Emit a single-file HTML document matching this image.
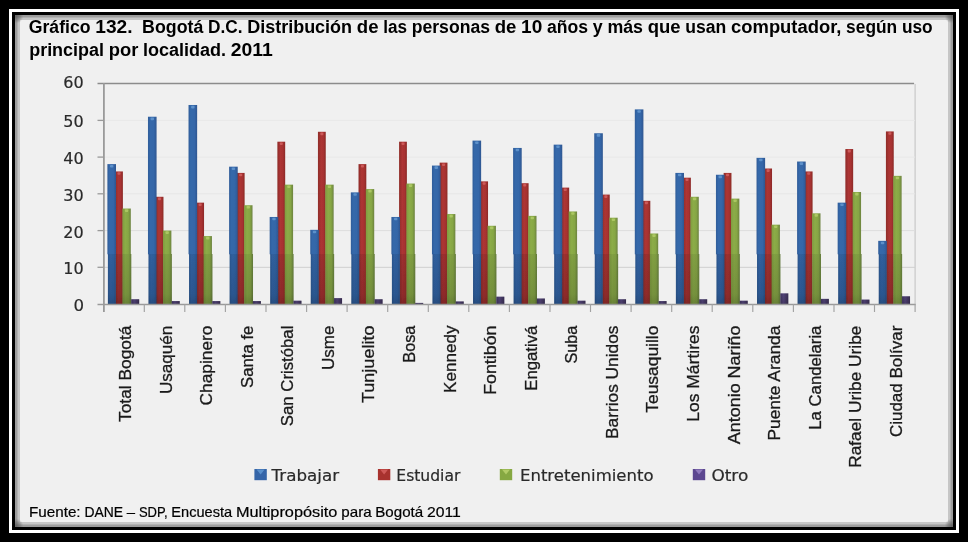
<!DOCTYPE html>
<html lang="es"><head><meta charset="utf-8"><title>Gráfico 132</title>
<style>
html,body{margin:0;padding:0;background:#000;}
body{width:968px;height:542px;overflow:hidden;position:relative;}
svg{position:absolute;left:0;top:0;display:block;}
text{white-space:pre;}
.t{font-family:"Liberation Sans",sans-serif;font-weight:bold;font-size:17.5px;fill:#000;}
.f{font-family:"Liberation Sans",sans-serif;font-size:14.5px;fill:#000;stroke:#000;stroke-width:0.2px;}
.x{font-family:"Liberation Sans",sans-serif;font-size:17.4px;fill:#1a1a1a;stroke:#1a1a1a;stroke-width:0.3px;}
.y{font-family:"DejaVu Sans",sans-serif;font-size:16.6px;fill:#2a2a2a;stroke:#2a2a2a;stroke-width:0.2px;}
.l{font-family:"DejaVu Sans",sans-serif;font-size:15.7px;fill:#2a2a2a;stroke:#2a2a2a;stroke-width:0.2px;}
</style></head><body>
<svg width="968" height="542" viewBox="0 0 968 542">
<defs>
<linearGradient id="gb" x1="0" x2="1" y1="0" y2="0"><stop offset="0" stop-color="#2f5c98"/><stop offset="0.25" stop-color="#3468aa"/><stop offset="0.7" stop-color="#3466a8"/><stop offset="1" stop-color="#2e5690"/></linearGradient>
<linearGradient id="gr" x1="0" x2="1" y1="0" y2="0"><stop offset="0" stop-color="#8e2b28"/><stop offset="0.4" stop-color="#ad3534"/><stop offset="0.7" stop-color="#a83231"/><stop offset="1" stop-color="#8c2a27"/></linearGradient>
<linearGradient id="gg" x1="0" x2="1" y1="0" y2="0"><stop offset="0" stop-color="#7f9c40"/><stop offset="0.35" stop-color="#8cac47"/><stop offset="0.7" stop-color="#86a644"/><stop offset="1" stop-color="#6c8240"/></linearGradient>
<linearGradient id="gp" x1="0" x2="1" y1="0" y2="0"><stop offset="0" stop-color="#4d3d78"/><stop offset="0.4" stop-color="#6a539c"/><stop offset="1" stop-color="#463669"/></linearGradient>
<linearGradient id="gbd" x1="0" x2="1" y1="0" y2="0"><stop offset="0" stop-color="#2c578f"/><stop offset="0.3" stop-color="#3161a1"/><stop offset="0.7" stop-color="#305f9d"/><stop offset="1" stop-color="#2b538a"/></linearGradient>
<linearGradient id="grd" x1="0" x2="1" y1="0" y2="0"><stop offset="0" stop-color="#842a2a"/><stop offset="0.4" stop-color="#a03130"/><stop offset="0.7" stop-color="#9c2f2e"/><stop offset="1" stop-color="#8a3024"/></linearGradient>
<linearGradient id="ggd" x1="0" x2="1" y1="0" y2="0"><stop offset="0" stop-color="#78953d"/><stop offset="0.35" stop-color="#84a344"/><stop offset="0.7" stop-color="#809e42"/><stop offset="1" stop-color="#637b3b"/></linearGradient>
<linearGradient id="gpd" x1="0" x2="1" y1="0" y2="0"><stop offset="0" stop-color="#463a68"/><stop offset="0.4" stop-color="#5a4a84"/><stop offset="1" stop-color="#3e325a"/></linearGradient>
<linearGradient id="vd" gradientUnits="userSpaceOnUse" x1="0" y1="254" x2="0" y2="304"><stop offset="0" stop-color="#000" stop-opacity="0.02"/><stop offset="0.8" stop-color="#000" stop-opacity="0.10"/><stop offset="1" stop-color="#000" stop-opacity="0.2"/></linearGradient>
<radialGradient id="cn" cx="0.5" cy="0.5" r="0.5"><stop offset="0" stop-color="#5e5e5e" stop-opacity="0.95"/><stop offset="0.55" stop-color="#6e6e6e" stop-opacity="0.6"/><stop offset="1" stop-color="#808080" stop-opacity="0"/></radialGradient>
<clipPath id="bev"><rect x="15" y="15" width="938" height="512"/></clipPath>
<filter id="bl" x="-5%" y="-5%" width="110%" height="110%"><feGaussianBlur stdDeviation="0.55"/></filter>
</defs>

<rect x="0" y="0" width="968" height="542" fill="#000"/>
<rect x="9" y="9" width="950" height="524" fill="#fff"/>
<rect x="12" y="12" width="944" height="518" fill="#000"/>
<rect x="15" y="15" width="938" height="512" fill="#9c9c9c"/>
<rect x="17.5" y="17.5" width="933" height="507" fill="#c6c6c6"/>
<rect x="20" y="20" width="928" height="502" fill="#f0f0f0"/>
<g clip-path="url(#bev)">
<circle cx="16" cy="16" r="7.5" fill="url(#cn)"/>
<circle cx="952" cy="16" r="7.5" fill="url(#cn)"/>
<circle cx="16" cy="526" r="7.5" fill="url(#cn)"/>
<circle cx="952" cy="526" r="7.5" fill="url(#cn)"/>
</g>
<text class="t" y="33.4"><tspan x="28.7" textLength="61.9" lengthAdjust="spacingAndGlyphs">Gráfico</tspan> <tspan x="95.3" textLength="37.3" lengthAdjust="spacingAndGlyphs">132.</tspan>  <tspan x="142.1" textLength="61.2" lengthAdjust="spacingAndGlyphs">Bogotá</tspan> <tspan x="208.0" textLength="34.5" lengthAdjust="spacingAndGlyphs">D.C.</tspan> <tspan x="247.2" textLength="104.9" lengthAdjust="spacingAndGlyphs">Distribución</tspan> <tspan x="356.8" textLength="21.7" lengthAdjust="spacingAndGlyphs">de</tspan> <tspan x="383.2" textLength="23.8" lengthAdjust="spacingAndGlyphs">las</tspan> <tspan x="411.7" textLength="78.3" lengthAdjust="spacingAndGlyphs">personas</tspan> <tspan x="494.7" textLength="21.7" lengthAdjust="spacingAndGlyphs">de</tspan> <tspan x="521.1" textLength="21.2" lengthAdjust="spacingAndGlyphs">10</tspan> <tspan x="547.0" textLength="41.1" lengthAdjust="spacingAndGlyphs">años</tspan> <tspan x="592.8" textLength="9.9" lengthAdjust="spacingAndGlyphs">y</tspan> <tspan x="607.4" textLength="35.6" lengthAdjust="spacingAndGlyphs">más</tspan> <tspan x="647.7" textLength="32.9" lengthAdjust="spacingAndGlyphs">que</tspan> <tspan x="685.3" textLength="41.0" lengthAdjust="spacingAndGlyphs">usan</tspan> <tspan x="731.1" textLength="110.3" lengthAdjust="spacingAndGlyphs">computador,</tspan> <tspan x="846.1" textLength="51.1" lengthAdjust="spacingAndGlyphs">según</tspan> <tspan x="901.9" textLength="30.8" lengthAdjust="spacingAndGlyphs">uso</tspan></text>
<text class="t" y="56.3"><tspan x="29.2" textLength="74.8" lengthAdjust="spacingAndGlyphs">principal</tspan> <tspan x="108.7" textLength="29.6" lengthAdjust="spacingAndGlyphs">por</tspan> <tspan x="143.0" textLength="83.1" lengthAdjust="spacingAndGlyphs">localidad.</tspan> <tspan x="230.7" textLength="42.0" lengthAdjust="spacingAndGlyphs">2011</tspan></text>
<text class="f" y="516.8"><tspan x="29.0" textLength="51.6" lengthAdjust="spacingAndGlyphs">Fuente:</tspan> <tspan x="84.4" textLength="38.6" lengthAdjust="spacingAndGlyphs">DANE</tspan> <tspan x="126.8" textLength="8.3" lengthAdjust="spacingAndGlyphs">–</tspan> <tspan x="138.9" textLength="28.7" lengthAdjust="spacingAndGlyphs">SDP,</tspan> <tspan x="171.3" textLength="60.8" lengthAdjust="spacingAndGlyphs">Encuesta</tspan> <tspan x="235.9" textLength="101.5" lengthAdjust="spacingAndGlyphs">Multipropósito</tspan> <tspan x="341.3" textLength="30.3" lengthAdjust="spacingAndGlyphs">para</tspan> <tspan x="375.3" textLength="47.9" lengthAdjust="spacingAndGlyphs">Bogotá</tspan> <tspan x="426.9" textLength="33.9" lengthAdjust="spacingAndGlyphs">2011</tspan></text>
<g fill="none">
<path d="M97.5 83.5 H914.1" stroke="#8c8c8c" stroke-width="1.3"/>
<path d="M915.1 84 V304.0" stroke="#c8c8c8" stroke-width="1.2"/>
<path d="M103.7 267.3 H915.1" stroke="#cfcfcf" stroke-width="1"/>
<path d="M103.7 230.6 H915.1" stroke="#dddddd" stroke-width="1"/>
<path d="M103.7 193.8 H915.1" stroke="#e6e6e6" stroke-width="1"/>
<path d="M103.7 157.1 H915.1" stroke="#e8e8e8" stroke-width="1"/>
<path d="M103.7 120.4 H915.1" stroke="#e8e8e8" stroke-width="1"/>
</g>
<g filter="url(#bl)">
<rect x="115.10" y="171.44" width="7.80" height="82.86" fill="url(#gr)"/>
<rect x="115.30" y="254.00" width="7.60" height="50.00" fill="url(#grd)"/>
<rect x="115.30" y="254.00" width="7.60" height="50.00" fill="url(#vd)"/>
<rect x="107.40" y="164.10" width="8.60" height="90.20" fill="url(#gb)"/>
<rect x="107.90" y="254.00" width="8.00" height="50.00" fill="url(#gbd)"/>
<rect x="107.90" y="254.00" width="8.00" height="50.00" fill="url(#vd)"/>
<rect x="122.40" y="208.53" width="8.40" height="45.77" fill="url(#gg)"/>
<rect x="122.50" y="254.00" width="8.80" height="50.00" fill="url(#ggd)"/>
<rect x="122.50" y="254.00" width="8.80" height="50.00" fill="url(#vd)"/>
<rect x="131.20" y="299.23" width="8.00" height="4.77" fill="url(#gpd)"/>
<rect x="131.20" y="299.23" width="8.00" height="4.77" fill="url(#vd)"/>
<rect x="155.67" y="196.78" width="7.80" height="57.52" fill="url(#gr)"/>
<rect x="155.87" y="254.00" width="7.60" height="50.00" fill="url(#grd)"/>
<rect x="155.87" y="254.00" width="7.60" height="50.00" fill="url(#vd)"/>
<rect x="147.97" y="116.73" width="8.60" height="137.57" fill="url(#gb)"/>
<rect x="148.47" y="254.00" width="8.00" height="50.00" fill="url(#gbd)"/>
<rect x="148.47" y="254.00" width="8.00" height="50.00" fill="url(#vd)"/>
<rect x="162.97" y="230.56" width="8.40" height="23.74" fill="url(#gg)"/>
<rect x="163.07" y="254.00" width="8.80" height="50.00" fill="url(#ggd)"/>
<rect x="163.07" y="254.00" width="8.80" height="50.00" fill="url(#vd)"/>
<rect x="171.77" y="301.06" width="8.00" height="2.94" fill="url(#gpd)"/>
<rect x="171.77" y="301.06" width="8.00" height="2.94" fill="url(#vd)"/>
<rect x="196.24" y="202.65" width="7.80" height="51.65" fill="url(#gr)"/>
<rect x="196.44" y="254.00" width="7.60" height="50.00" fill="url(#grd)"/>
<rect x="196.44" y="254.00" width="7.60" height="50.00" fill="url(#vd)"/>
<rect x="188.54" y="104.98" width="8.60" height="149.32" fill="url(#gb)"/>
<rect x="189.04" y="254.00" width="8.00" height="50.00" fill="url(#gbd)"/>
<rect x="189.04" y="254.00" width="8.00" height="50.00" fill="url(#vd)"/>
<rect x="203.54" y="236.07" width="8.40" height="18.23" fill="url(#gg)"/>
<rect x="203.64" y="254.00" width="8.80" height="50.00" fill="url(#ggd)"/>
<rect x="203.64" y="254.00" width="8.80" height="50.00" fill="url(#vd)"/>
<rect x="212.34" y="301.06" width="8.00" height="2.94" fill="url(#gpd)"/>
<rect x="212.34" y="301.06" width="8.00" height="2.94" fill="url(#vd)"/>
<rect x="236.81" y="172.91" width="7.80" height="81.39" fill="url(#gr)"/>
<rect x="237.01" y="254.00" width="7.60" height="50.00" fill="url(#grd)"/>
<rect x="237.01" y="254.00" width="7.60" height="50.00" fill="url(#vd)"/>
<rect x="229.11" y="166.67" width="8.60" height="87.63" fill="url(#gb)"/>
<rect x="229.61" y="254.00" width="8.00" height="50.00" fill="url(#gbd)"/>
<rect x="229.61" y="254.00" width="8.00" height="50.00" fill="url(#vd)"/>
<rect x="244.11" y="205.22" width="8.40" height="49.08" fill="url(#gg)"/>
<rect x="244.21" y="254.00" width="8.80" height="50.00" fill="url(#ggd)"/>
<rect x="244.21" y="254.00" width="8.80" height="50.00" fill="url(#vd)"/>
<rect x="252.91" y="301.06" width="8.00" height="2.94" fill="url(#gpd)"/>
<rect x="252.91" y="301.06" width="8.00" height="2.94" fill="url(#vd)"/>
<rect x="277.38" y="141.70" width="7.80" height="112.60" fill="url(#gr)"/>
<rect x="277.58" y="254.00" width="7.60" height="50.00" fill="url(#grd)"/>
<rect x="277.58" y="254.00" width="7.60" height="50.00" fill="url(#vd)"/>
<rect x="269.68" y="216.97" width="8.60" height="37.33" fill="url(#gb)"/>
<rect x="270.18" y="254.00" width="8.00" height="50.00" fill="url(#gbd)"/>
<rect x="270.18" y="254.00" width="8.00" height="50.00" fill="url(#vd)"/>
<rect x="284.68" y="184.66" width="8.40" height="69.64" fill="url(#gg)"/>
<rect x="284.78" y="254.00" width="8.80" height="50.00" fill="url(#ggd)"/>
<rect x="284.78" y="254.00" width="8.80" height="50.00" fill="url(#vd)"/>
<rect x="293.48" y="300.70" width="8.00" height="3.30" fill="url(#gpd)"/>
<rect x="293.48" y="300.70" width="8.00" height="3.30" fill="url(#vd)"/>
<rect x="317.95" y="131.78" width="7.80" height="122.52" fill="url(#gr)"/>
<rect x="318.15" y="254.00" width="7.60" height="50.00" fill="url(#grd)"/>
<rect x="318.15" y="254.00" width="7.60" height="50.00" fill="url(#vd)"/>
<rect x="310.25" y="229.83" width="8.60" height="24.47" fill="url(#gb)"/>
<rect x="310.75" y="254.00" width="8.00" height="50.00" fill="url(#gbd)"/>
<rect x="310.75" y="254.00" width="8.00" height="50.00" fill="url(#vd)"/>
<rect x="325.25" y="184.66" width="8.40" height="69.64" fill="url(#gg)"/>
<rect x="325.35" y="254.00" width="8.80" height="50.00" fill="url(#ggd)"/>
<rect x="325.35" y="254.00" width="8.80" height="50.00" fill="url(#vd)"/>
<rect x="334.05" y="298.12" width="8.00" height="5.88" fill="url(#gpd)"/>
<rect x="334.05" y="298.12" width="8.00" height="5.88" fill="url(#vd)"/>
<rect x="358.52" y="164.10" width="7.80" height="90.20" fill="url(#gr)"/>
<rect x="358.72" y="254.00" width="7.60" height="50.00" fill="url(#grd)"/>
<rect x="358.72" y="254.00" width="7.60" height="50.00" fill="url(#vd)"/>
<rect x="350.82" y="192.37" width="8.60" height="61.93" fill="url(#gb)"/>
<rect x="351.32" y="254.00" width="8.00" height="50.00" fill="url(#gbd)"/>
<rect x="351.32" y="254.00" width="8.00" height="50.00" fill="url(#vd)"/>
<rect x="365.82" y="189.07" width="8.40" height="65.23" fill="url(#gg)"/>
<rect x="365.92" y="254.00" width="8.80" height="50.00" fill="url(#ggd)"/>
<rect x="365.92" y="254.00" width="8.80" height="50.00" fill="url(#vd)"/>
<rect x="374.62" y="299.23" width="8.00" height="4.77" fill="url(#gpd)"/>
<rect x="374.62" y="299.23" width="8.00" height="4.77" fill="url(#vd)"/>
<rect x="399.09" y="141.70" width="7.80" height="112.60" fill="url(#gr)"/>
<rect x="399.29" y="254.00" width="7.60" height="50.00" fill="url(#grd)"/>
<rect x="399.29" y="254.00" width="7.60" height="50.00" fill="url(#vd)"/>
<rect x="391.39" y="216.97" width="8.60" height="37.33" fill="url(#gb)"/>
<rect x="391.89" y="254.00" width="8.00" height="50.00" fill="url(#gbd)"/>
<rect x="391.89" y="254.00" width="8.00" height="50.00" fill="url(#vd)"/>
<rect x="406.39" y="183.56" width="8.40" height="70.74" fill="url(#gg)"/>
<rect x="406.49" y="254.00" width="8.80" height="50.00" fill="url(#ggd)"/>
<rect x="406.49" y="254.00" width="8.80" height="50.00" fill="url(#vd)"/>
<rect x="415.19" y="302.90" width="8.00" height="1.10" fill="url(#gpd)"/>
<rect x="415.19" y="302.90" width="8.00" height="1.10" fill="url(#vd)"/>
<rect x="439.66" y="162.63" width="7.80" height="91.67" fill="url(#gr)"/>
<rect x="439.86" y="254.00" width="7.60" height="50.00" fill="url(#grd)"/>
<rect x="439.86" y="254.00" width="7.60" height="50.00" fill="url(#vd)"/>
<rect x="431.96" y="165.57" width="8.60" height="88.73" fill="url(#gb)"/>
<rect x="432.46" y="254.00" width="8.00" height="50.00" fill="url(#gbd)"/>
<rect x="432.46" y="254.00" width="8.00" height="50.00" fill="url(#vd)"/>
<rect x="446.96" y="214.04" width="8.40" height="40.26" fill="url(#gg)"/>
<rect x="447.06" y="254.00" width="8.80" height="50.00" fill="url(#ggd)"/>
<rect x="447.06" y="254.00" width="8.80" height="50.00" fill="url(#vd)"/>
<rect x="455.76" y="301.43" width="8.00" height="2.57" fill="url(#gpd)"/>
<rect x="455.76" y="301.43" width="8.00" height="2.57" fill="url(#vd)"/>
<rect x="480.23" y="181.36" width="7.80" height="72.94" fill="url(#gr)"/>
<rect x="480.43" y="254.00" width="7.60" height="50.00" fill="url(#grd)"/>
<rect x="480.43" y="254.00" width="7.60" height="50.00" fill="url(#vd)"/>
<rect x="472.53" y="140.60" width="8.60" height="113.70" fill="url(#gb)"/>
<rect x="473.03" y="254.00" width="8.00" height="50.00" fill="url(#gbd)"/>
<rect x="473.03" y="254.00" width="8.00" height="50.00" fill="url(#vd)"/>
<rect x="487.53" y="225.79" width="8.40" height="28.51" fill="url(#gg)"/>
<rect x="487.63" y="254.00" width="8.80" height="50.00" fill="url(#ggd)"/>
<rect x="487.63" y="254.00" width="8.80" height="50.00" fill="url(#vd)"/>
<rect x="496.33" y="296.66" width="8.00" height="7.34" fill="url(#gpd)"/>
<rect x="496.33" y="296.66" width="8.00" height="7.34" fill="url(#vd)"/>
<rect x="520.80" y="183.19" width="7.80" height="71.11" fill="url(#gr)"/>
<rect x="521.00" y="254.00" width="7.60" height="50.00" fill="url(#grd)"/>
<rect x="521.00" y="254.00" width="7.60" height="50.00" fill="url(#vd)"/>
<rect x="513.10" y="147.94" width="8.60" height="106.36" fill="url(#gb)"/>
<rect x="513.60" y="254.00" width="8.00" height="50.00" fill="url(#gbd)"/>
<rect x="513.60" y="254.00" width="8.00" height="50.00" fill="url(#vd)"/>
<rect x="528.10" y="215.87" width="8.40" height="38.43" fill="url(#gg)"/>
<rect x="528.20" y="254.00" width="8.80" height="50.00" fill="url(#ggd)"/>
<rect x="528.20" y="254.00" width="8.80" height="50.00" fill="url(#vd)"/>
<rect x="536.90" y="298.49" width="8.00" height="5.51" fill="url(#gpd)"/>
<rect x="536.90" y="298.49" width="8.00" height="5.51" fill="url(#vd)"/>
<rect x="561.37" y="187.60" width="7.80" height="66.70" fill="url(#gr)"/>
<rect x="561.57" y="254.00" width="7.60" height="50.00" fill="url(#grd)"/>
<rect x="561.57" y="254.00" width="7.60" height="50.00" fill="url(#vd)"/>
<rect x="553.67" y="144.64" width="8.60" height="109.66" fill="url(#gb)"/>
<rect x="554.17" y="254.00" width="8.00" height="50.00" fill="url(#gbd)"/>
<rect x="554.17" y="254.00" width="8.00" height="50.00" fill="url(#vd)"/>
<rect x="568.67" y="211.47" width="8.40" height="42.83" fill="url(#gg)"/>
<rect x="568.77" y="254.00" width="8.80" height="50.00" fill="url(#ggd)"/>
<rect x="568.77" y="254.00" width="8.80" height="50.00" fill="url(#vd)"/>
<rect x="577.47" y="300.70" width="8.00" height="3.30" fill="url(#gpd)"/>
<rect x="577.47" y="300.70" width="8.00" height="3.30" fill="url(#vd)"/>
<rect x="601.94" y="194.57" width="7.80" height="59.73" fill="url(#gr)"/>
<rect x="602.14" y="254.00" width="7.60" height="50.00" fill="url(#grd)"/>
<rect x="602.14" y="254.00" width="7.60" height="50.00" fill="url(#vd)"/>
<rect x="594.24" y="133.25" width="8.60" height="121.05" fill="url(#gb)"/>
<rect x="594.74" y="254.00" width="8.00" height="50.00" fill="url(#gbd)"/>
<rect x="594.74" y="254.00" width="8.00" height="50.00" fill="url(#vd)"/>
<rect x="609.24" y="217.71" width="8.40" height="36.59" fill="url(#gg)"/>
<rect x="609.34" y="254.00" width="8.80" height="50.00" fill="url(#ggd)"/>
<rect x="609.34" y="254.00" width="8.80" height="50.00" fill="url(#vd)"/>
<rect x="618.04" y="299.23" width="8.00" height="4.77" fill="url(#gpd)"/>
<rect x="618.04" y="299.23" width="8.00" height="4.77" fill="url(#vd)"/>
<rect x="642.51" y="200.82" width="7.80" height="53.48" fill="url(#gr)"/>
<rect x="642.71" y="254.00" width="7.60" height="50.00" fill="url(#grd)"/>
<rect x="642.71" y="254.00" width="7.60" height="50.00" fill="url(#vd)"/>
<rect x="634.81" y="109.38" width="8.60" height="144.92" fill="url(#gb)"/>
<rect x="635.31" y="254.00" width="8.00" height="50.00" fill="url(#gbd)"/>
<rect x="635.31" y="254.00" width="8.00" height="50.00" fill="url(#vd)"/>
<rect x="649.81" y="233.50" width="8.40" height="20.80" fill="url(#gg)"/>
<rect x="649.91" y="254.00" width="8.80" height="50.00" fill="url(#ggd)"/>
<rect x="649.91" y="254.00" width="8.80" height="50.00" fill="url(#vd)"/>
<rect x="658.61" y="301.06" width="8.00" height="2.94" fill="url(#gpd)"/>
<rect x="658.61" y="301.06" width="8.00" height="2.94" fill="url(#vd)"/>
<rect x="683.08" y="177.68" width="7.80" height="76.62" fill="url(#gr)"/>
<rect x="683.28" y="254.00" width="7.60" height="50.00" fill="url(#grd)"/>
<rect x="683.28" y="254.00" width="7.60" height="50.00" fill="url(#vd)"/>
<rect x="675.38" y="172.91" width="8.60" height="81.39" fill="url(#gb)"/>
<rect x="675.88" y="254.00" width="8.00" height="50.00" fill="url(#gbd)"/>
<rect x="675.88" y="254.00" width="8.00" height="50.00" fill="url(#vd)"/>
<rect x="690.38" y="196.78" width="8.40" height="57.52" fill="url(#gg)"/>
<rect x="690.48" y="254.00" width="8.80" height="50.00" fill="url(#ggd)"/>
<rect x="690.48" y="254.00" width="8.80" height="50.00" fill="url(#vd)"/>
<rect x="699.18" y="299.23" width="8.00" height="4.77" fill="url(#gpd)"/>
<rect x="699.18" y="299.23" width="8.00" height="4.77" fill="url(#vd)"/>
<rect x="723.65" y="172.91" width="7.80" height="81.39" fill="url(#gr)"/>
<rect x="723.85" y="254.00" width="7.60" height="50.00" fill="url(#grd)"/>
<rect x="723.85" y="254.00" width="7.60" height="50.00" fill="url(#vd)"/>
<rect x="715.95" y="174.75" width="8.60" height="79.55" fill="url(#gb)"/>
<rect x="716.45" y="254.00" width="8.00" height="50.00" fill="url(#gbd)"/>
<rect x="716.45" y="254.00" width="8.00" height="50.00" fill="url(#vd)"/>
<rect x="730.95" y="198.61" width="8.40" height="55.69" fill="url(#gg)"/>
<rect x="731.05" y="254.00" width="8.80" height="50.00" fill="url(#ggd)"/>
<rect x="731.05" y="254.00" width="8.80" height="50.00" fill="url(#vd)"/>
<rect x="739.75" y="300.70" width="8.00" height="3.30" fill="url(#gpd)"/>
<rect x="739.75" y="300.70" width="8.00" height="3.30" fill="url(#vd)"/>
<rect x="764.22" y="168.50" width="7.80" height="85.80" fill="url(#gr)"/>
<rect x="764.42" y="254.00" width="7.60" height="50.00" fill="url(#grd)"/>
<rect x="764.42" y="254.00" width="7.60" height="50.00" fill="url(#vd)"/>
<rect x="756.52" y="157.85" width="8.60" height="96.45" fill="url(#gb)"/>
<rect x="757.02" y="254.00" width="8.00" height="50.00" fill="url(#gbd)"/>
<rect x="757.02" y="254.00" width="8.00" height="50.00" fill="url(#vd)"/>
<rect x="771.52" y="224.68" width="8.40" height="29.62" fill="url(#gg)"/>
<rect x="771.62" y="254.00" width="8.80" height="50.00" fill="url(#ggd)"/>
<rect x="771.62" y="254.00" width="8.80" height="50.00" fill="url(#vd)"/>
<rect x="780.32" y="293.35" width="8.00" height="10.65" fill="url(#gpd)"/>
<rect x="780.32" y="293.35" width="8.00" height="10.65" fill="url(#vd)"/>
<rect x="804.79" y="171.44" width="7.80" height="82.86" fill="url(#gr)"/>
<rect x="804.99" y="254.00" width="7.60" height="50.00" fill="url(#grd)"/>
<rect x="804.99" y="254.00" width="7.60" height="50.00" fill="url(#vd)"/>
<rect x="797.09" y="161.53" width="8.60" height="92.77" fill="url(#gb)"/>
<rect x="797.59" y="254.00" width="8.00" height="50.00" fill="url(#gbd)"/>
<rect x="797.59" y="254.00" width="8.00" height="50.00" fill="url(#vd)"/>
<rect x="812.09" y="213.30" width="8.40" height="41.00" fill="url(#gg)"/>
<rect x="812.19" y="254.00" width="8.80" height="50.00" fill="url(#ggd)"/>
<rect x="812.19" y="254.00" width="8.80" height="50.00" fill="url(#vd)"/>
<rect x="820.89" y="298.86" width="8.00" height="5.14" fill="url(#gpd)"/>
<rect x="820.89" y="298.86" width="8.00" height="5.14" fill="url(#vd)"/>
<rect x="845.36" y="149.04" width="7.80" height="105.26" fill="url(#gr)"/>
<rect x="845.56" y="254.00" width="7.60" height="50.00" fill="url(#grd)"/>
<rect x="845.56" y="254.00" width="7.60" height="50.00" fill="url(#vd)"/>
<rect x="837.66" y="202.65" width="8.60" height="51.65" fill="url(#gb)"/>
<rect x="838.16" y="254.00" width="8.00" height="50.00" fill="url(#gbd)"/>
<rect x="838.16" y="254.00" width="8.00" height="50.00" fill="url(#vd)"/>
<rect x="852.66" y="192.00" width="8.40" height="62.30" fill="url(#gg)"/>
<rect x="852.76" y="254.00" width="8.80" height="50.00" fill="url(#ggd)"/>
<rect x="852.76" y="254.00" width="8.80" height="50.00" fill="url(#vd)"/>
<rect x="861.46" y="299.59" width="8.00" height="4.41" fill="url(#gpd)"/>
<rect x="861.46" y="299.59" width="8.00" height="4.41" fill="url(#vd)"/>
<rect x="885.93" y="131.42" width="7.80" height="122.88" fill="url(#gr)"/>
<rect x="886.13" y="254.00" width="7.60" height="50.00" fill="url(#grd)"/>
<rect x="886.13" y="254.00" width="7.60" height="50.00" fill="url(#vd)"/>
<rect x="878.23" y="240.84" width="8.60" height="13.46" fill="url(#gb)"/>
<rect x="878.73" y="254.00" width="8.00" height="50.00" fill="url(#gbd)"/>
<rect x="878.73" y="254.00" width="8.00" height="50.00" fill="url(#vd)"/>
<rect x="893.23" y="175.85" width="8.40" height="78.45" fill="url(#gg)"/>
<rect x="893.33" y="254.00" width="8.80" height="50.00" fill="url(#ggd)"/>
<rect x="893.33" y="254.00" width="8.80" height="50.00" fill="url(#vd)"/>
<rect x="902.03" y="296.29" width="8.00" height="7.71" fill="url(#gpd)"/>
<rect x="902.03" y="296.29" width="8.00" height="7.71" fill="url(#vd)"/>
</g>
<g opacity="0.55">
<rect x="109.98" y="164.90" width="3.44" height="2.6" rx="1" fill="#7fb4e6"/>
<rect x="117.44" y="172.24" width="3.12" height="2.6" rx="1" fill="#e87a7a"/>
<rect x="124.92" y="209.33" width="3.36" height="2.6" rx="1" fill="#c8e07a"/>
<rect x="150.55" y="117.53" width="3.44" height="2.6" rx="1" fill="#7fb4e6"/>
<rect x="158.01" y="197.58" width="3.12" height="2.6" rx="1" fill="#e87a7a"/>
<rect x="165.49" y="231.36" width="3.36" height="2.6" rx="1" fill="#c8e07a"/>
<rect x="191.12" y="105.78" width="3.44" height="2.6" rx="1" fill="#7fb4e6"/>
<rect x="198.58" y="203.45" width="3.12" height="2.6" rx="1" fill="#e87a7a"/>
<rect x="206.06" y="236.87" width="3.36" height="2.6" rx="1" fill="#c8e07a"/>
<rect x="231.69" y="167.47" width="3.44" height="2.6" rx="1" fill="#7fb4e6"/>
<rect x="239.15" y="173.71" width="3.12" height="2.6" rx="1" fill="#e87a7a"/>
<rect x="246.63" y="206.02" width="3.36" height="2.6" rx="1" fill="#c8e07a"/>
<rect x="272.26" y="217.77" width="3.44" height="2.6" rx="1" fill="#7fb4e6"/>
<rect x="279.72" y="142.50" width="3.12" height="2.6" rx="1" fill="#e87a7a"/>
<rect x="287.20" y="185.46" width="3.36" height="2.6" rx="1" fill="#c8e07a"/>
<rect x="312.83" y="230.63" width="3.44" height="2.6" rx="1" fill="#7fb4e6"/>
<rect x="320.29" y="132.58" width="3.12" height="2.6" rx="1" fill="#e87a7a"/>
<rect x="327.77" y="185.46" width="3.36" height="2.6" rx="1" fill="#c8e07a"/>
<rect x="353.40" y="193.17" width="3.44" height="2.6" rx="1" fill="#7fb4e6"/>
<rect x="360.86" y="164.90" width="3.12" height="2.6" rx="1" fill="#e87a7a"/>
<rect x="368.34" y="189.87" width="3.36" height="2.6" rx="1" fill="#c8e07a"/>
<rect x="393.97" y="217.77" width="3.44" height="2.6" rx="1" fill="#7fb4e6"/>
<rect x="401.43" y="142.50" width="3.12" height="2.6" rx="1" fill="#e87a7a"/>
<rect x="408.91" y="184.36" width="3.36" height="2.6" rx="1" fill="#c8e07a"/>
<rect x="434.54" y="166.37" width="3.44" height="2.6" rx="1" fill="#7fb4e6"/>
<rect x="442.00" y="163.43" width="3.12" height="2.6" rx="1" fill="#e87a7a"/>
<rect x="449.48" y="214.84" width="3.36" height="2.6" rx="1" fill="#c8e07a"/>
<rect x="475.11" y="141.40" width="3.44" height="2.6" rx="1" fill="#7fb4e6"/>
<rect x="482.57" y="182.16" width="3.12" height="2.6" rx="1" fill="#e87a7a"/>
<rect x="490.05" y="226.59" width="3.36" height="2.6" rx="1" fill="#c8e07a"/>
<rect x="515.68" y="148.74" width="3.44" height="2.6" rx="1" fill="#7fb4e6"/>
<rect x="523.14" y="183.99" width="3.12" height="2.6" rx="1" fill="#e87a7a"/>
<rect x="530.62" y="216.67" width="3.36" height="2.6" rx="1" fill="#c8e07a"/>
<rect x="556.25" y="145.44" width="3.44" height="2.6" rx="1" fill="#7fb4e6"/>
<rect x="563.71" y="188.40" width="3.12" height="2.6" rx="1" fill="#e87a7a"/>
<rect x="571.19" y="212.27" width="3.36" height="2.6" rx="1" fill="#c8e07a"/>
<rect x="596.82" y="134.05" width="3.44" height="2.6" rx="1" fill="#7fb4e6"/>
<rect x="604.28" y="195.37" width="3.12" height="2.6" rx="1" fill="#e87a7a"/>
<rect x="611.76" y="218.51" width="3.36" height="2.6" rx="1" fill="#c8e07a"/>
<rect x="637.39" y="110.18" width="3.44" height="2.6" rx="1" fill="#7fb4e6"/>
<rect x="644.85" y="201.62" width="3.12" height="2.6" rx="1" fill="#e87a7a"/>
<rect x="652.33" y="234.30" width="3.36" height="2.6" rx="1" fill="#c8e07a"/>
<rect x="677.96" y="173.71" width="3.44" height="2.6" rx="1" fill="#7fb4e6"/>
<rect x="685.42" y="178.48" width="3.12" height="2.6" rx="1" fill="#e87a7a"/>
<rect x="692.90" y="197.58" width="3.36" height="2.6" rx="1" fill="#c8e07a"/>
<rect x="718.53" y="175.55" width="3.44" height="2.6" rx="1" fill="#7fb4e6"/>
<rect x="725.99" y="173.71" width="3.12" height="2.6" rx="1" fill="#e87a7a"/>
<rect x="733.47" y="199.41" width="3.36" height="2.6" rx="1" fill="#c8e07a"/>
<rect x="759.10" y="158.65" width="3.44" height="2.6" rx="1" fill="#7fb4e6"/>
<rect x="766.56" y="169.30" width="3.12" height="2.6" rx="1" fill="#e87a7a"/>
<rect x="774.04" y="225.48" width="3.36" height="2.6" rx="1" fill="#c8e07a"/>
<rect x="799.67" y="162.33" width="3.44" height="2.6" rx="1" fill="#7fb4e6"/>
<rect x="807.13" y="172.24" width="3.12" height="2.6" rx="1" fill="#e87a7a"/>
<rect x="814.61" y="214.10" width="3.36" height="2.6" rx="1" fill="#c8e07a"/>
<rect x="840.24" y="203.45" width="3.44" height="2.6" rx="1" fill="#7fb4e6"/>
<rect x="847.70" y="149.84" width="3.12" height="2.6" rx="1" fill="#e87a7a"/>
<rect x="855.18" y="192.80" width="3.36" height="2.6" rx="1" fill="#c8e07a"/>
<rect x="880.81" y="241.64" width="3.44" height="2.6" rx="1" fill="#7fb4e6"/>
<rect x="888.27" y="132.22" width="3.12" height="2.6" rx="1" fill="#e87a7a"/>
<rect x="895.75" y="176.65" width="3.36" height="2.6" rx="1" fill="#c8e07a"/>
</g>
<g fill="none" stroke="#9a9a9a">
<path d="M103.9 83 V312" stroke-width="1.8"/>
<path d="M97.5 304.4 H915.6" stroke-width="1.5"/>
<path d="M97.5 267.3 H103.7" stroke-width="1.3"/>
<path d="M97.5 230.6 H103.7" stroke-width="1.3"/>
<path d="M97.5 193.8 H103.7" stroke-width="1.3"/>
<path d="M97.5 157.1 H103.7" stroke-width="1.3"/>
<path d="M97.5 120.4 H103.7" stroke-width="1.3"/>
<path d="M144.3 304.0 V312" stroke-width="1.15" stroke="#a2a2a2"/>
<path d="M184.8 304.0 V312" stroke-width="1.15" stroke="#a2a2a2"/>
<path d="M225.4 304.0 V312" stroke-width="1.15" stroke="#a2a2a2"/>
<path d="M266.0 304.0 V312" stroke-width="1.15" stroke="#a2a2a2"/>
<path d="M306.6 304.0 V312" stroke-width="1.15" stroke="#a2a2a2"/>
<path d="M347.1 304.0 V312" stroke-width="1.15" stroke="#a2a2a2"/>
<path d="M387.7 304.0 V312" stroke-width="1.15" stroke="#a2a2a2"/>
<path d="M428.3 304.0 V312" stroke-width="1.15" stroke="#a2a2a2"/>
<path d="M468.8 304.0 V312" stroke-width="1.15" stroke="#a2a2a2"/>
<path d="M509.4 304.0 V312" stroke-width="1.15" stroke="#a2a2a2"/>
<path d="M550.0 304.0 V312" stroke-width="1.15" stroke="#a2a2a2"/>
<path d="M590.5 304.0 V312" stroke-width="1.15" stroke="#a2a2a2"/>
<path d="M631.1 304.0 V312" stroke-width="1.15" stroke="#a2a2a2"/>
<path d="M671.7 304.0 V312" stroke-width="1.15" stroke="#a2a2a2"/>
<path d="M712.2 304.0 V312" stroke-width="1.15" stroke="#a2a2a2"/>
<path d="M752.8 304.0 V312" stroke-width="1.15" stroke="#a2a2a2"/>
<path d="M793.4 304.0 V312" stroke-width="1.15" stroke="#a2a2a2"/>
<path d="M834.0 304.0 V312" stroke-width="1.15" stroke="#a2a2a2"/>
<path d="M874.5 304.0 V312" stroke-width="1.15" stroke="#a2a2a2"/>
<path d="M915.1 304.0 V312" stroke-width="1.15" stroke="#a2a2a2"/>
</g>
<text class="y" x="73.6" y="311.0">0</text>
<text class="y" x="63.2" y="274.3" textLength="20.4" lengthAdjust="spacingAndGlyphs">10</text>
<text class="y" x="63.2" y="237.6" textLength="20.4" lengthAdjust="spacingAndGlyphs">20</text>
<text class="y" x="63.2" y="200.8" textLength="20.4" lengthAdjust="spacingAndGlyphs">30</text>
<text class="y" x="63.2" y="163.8" textLength="20.4" lengthAdjust="spacingAndGlyphs">40</text>
<text class="y" x="63.2" y="126.5" textLength="20.4" lengthAdjust="spacingAndGlyphs">50</text>
<text class="y" x="63.2" y="88.4" textLength="20.4" lengthAdjust="spacingAndGlyphs">60</text>
<text class="x" transform="translate(131.0 325.6) rotate(-90)" x="0" y="0" text-anchor="end" textLength="96.4" lengthAdjust="spacingAndGlyphs">Total Bogotá</text>
<text class="x" transform="translate(171.6 325.6) rotate(-90)" x="0" y="0" text-anchor="end" textLength="68.5" lengthAdjust="spacingAndGlyphs">Usaquén</text>
<text class="x" transform="translate(212.1 325.6) rotate(-90)" x="0" y="0" text-anchor="end" textLength="79.8" lengthAdjust="spacingAndGlyphs">Chapinero</text>
<text class="x" transform="translate(252.7 325.6) rotate(-90)" x="0" y="0" text-anchor="end" textLength="62.3" lengthAdjust="spacingAndGlyphs">Santa fe</text>
<text class="x" transform="translate(293.3 325.6) rotate(-90)" x="0" y="0" text-anchor="end" textLength="100.6" lengthAdjust="spacingAndGlyphs">San Cristóbal</text>
<text class="x" transform="translate(333.8 325.6) rotate(-90)" x="0" y="0" text-anchor="end" textLength="44.5" lengthAdjust="spacingAndGlyphs">Usme</text>
<text class="x" transform="translate(374.4 325.6) rotate(-90)" x="0" y="0" text-anchor="end" textLength="77.4" lengthAdjust="spacingAndGlyphs">Tunjuelito</text>
<text class="x" transform="translate(415.0 325.6) rotate(-90)" x="0" y="0" text-anchor="end" textLength="37.1" lengthAdjust="spacingAndGlyphs">Bosa</text>
<text class="x" transform="translate(455.5 325.6) rotate(-90)" x="0" y="0" text-anchor="end" textLength="67.3" lengthAdjust="spacingAndGlyphs">Kennedy</text>
<text class="x" transform="translate(496.1 325.6) rotate(-90)" x="0" y="0" text-anchor="end" textLength="69.2" lengthAdjust="spacingAndGlyphs">Fontibón</text>
<text class="x" transform="translate(536.7 325.6) rotate(-90)" x="0" y="0" text-anchor="end" textLength="65.1" lengthAdjust="spacingAndGlyphs">Engativá</text>
<text class="x" transform="translate(577.3 325.6) rotate(-90)" x="0" y="0" text-anchor="end" textLength="38.0" lengthAdjust="spacingAndGlyphs">Suba</text>
<text class="x" transform="translate(617.8 325.6) rotate(-90)" x="0" y="0" text-anchor="end" textLength="113.4" lengthAdjust="spacingAndGlyphs">Barrios Unidos</text>
<text class="x" transform="translate(658.4 325.6) rotate(-90)" x="0" y="0" text-anchor="end" textLength="87.1" lengthAdjust="spacingAndGlyphs">Teusaquillo</text>
<text class="x" transform="translate(699.0 325.6) rotate(-90)" x="0" y="0" text-anchor="end" textLength="96.1" lengthAdjust="spacingAndGlyphs">Los Mártires</text>
<text class="x" transform="translate(739.5 325.6) rotate(-90)" x="0" y="0" text-anchor="end" textLength="118.6" lengthAdjust="spacingAndGlyphs">Antonio Nariño</text>
<text class="x" transform="translate(780.1 325.6) rotate(-90)" x="0" y="0" text-anchor="end" textLength="115.0" lengthAdjust="spacingAndGlyphs">Puente Aranda</text>
<text class="x" transform="translate(820.7 325.6) rotate(-90)" x="0" y="0" text-anchor="end" textLength="104.1" lengthAdjust="spacingAndGlyphs">La Candelaria</text>
<text class="x" transform="translate(861.2 325.6) rotate(-90)" x="0" y="0" text-anchor="end" textLength="142.2" lengthAdjust="spacingAndGlyphs">Rafael Uribe Uribe</text>
<text class="x" transform="translate(901.8 325.6) rotate(-90)" x="0" y="0" text-anchor="end" textLength="111.5" lengthAdjust="spacingAndGlyphs">Ciudad Bolívar</text>
<rect x="254.4" y="469" width="12.4" height="11.2" fill="#3465a8" filter="url(#bl)"/>
<path d="M256.6 469.6 h8 l-4 5 z" fill="#6aa3dc" opacity="0.7"/>
<text class="l" x="271.6" y="481.4" textLength="67.5" lengthAdjust="spacingAndGlyphs">Trabajar</text>
<rect x="377.9" y="469" width="12.4" height="11.2" fill="#a8302f" filter="url(#bl)"/>
<path d="M380.1 469.6 h8 l-4 5 z" fill="#e06a6a" opacity="0.7"/>
<text class="l" x="396.3" y="481.4" textLength="64.1" lengthAdjust="spacingAndGlyphs">Estudiar</text>
<rect x="499.8" y="469" width="12.4" height="11.2" fill="#86a842" filter="url(#bl)"/>
<path d="M502.0 469.6 h8 l-4 5 z" fill="#c4dc78" opacity="0.7"/>
<text class="l" x="520.0" y="481.4" textLength="133.5" lengthAdjust="spacingAndGlyphs">Entretenimiento</text>
<rect x="692.8" y="469" width="12.4" height="11.2" fill="#5b4690" filter="url(#bl)"/>
<path d="M695.0 469.6 h8 l-4 5 z" fill="#a58fd0" opacity="0.7"/>
<text class="l" x="711.4" y="481.4" textLength="36.9" lengthAdjust="spacingAndGlyphs">Otro</text>
</svg></body></html>
